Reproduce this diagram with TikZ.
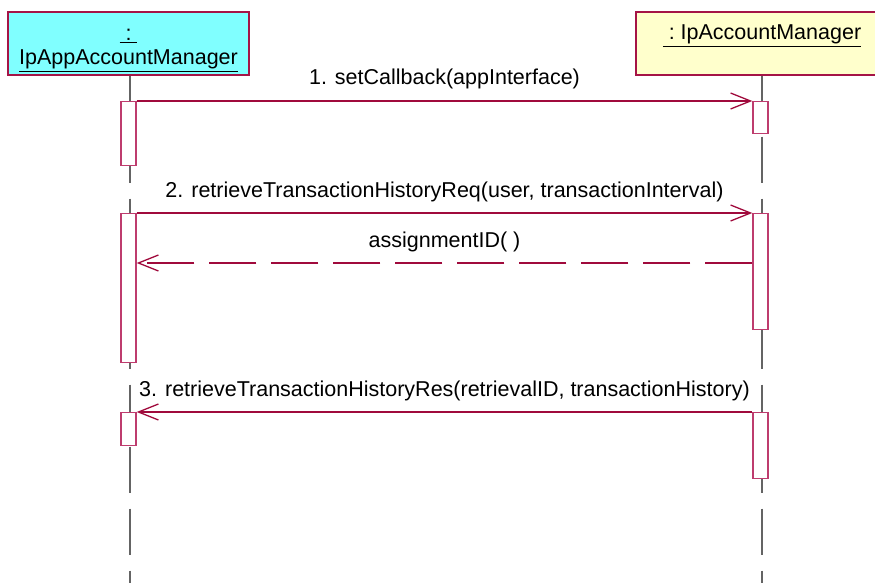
\documentclass[tikz,border=0pt]{standalone}
\usepackage{fontspec}
\setmainfont{Liberation Sans}
\usetikzlibrary{arrows.meta}
\definecolor{white}{RGB}{255,255,255}
\definecolor{app_cyan}{RGB}{128,255,255}
\definecolor{mgr_yellow}{RGB}{255,255,204}
\definecolor{hdr_red}{RGB}{165,20,70}
\definecolor{act_red}{RGB}{190,60,110}
\definecolor{msg_red}{RGB}{160,10,60}
\definecolor{life_gray}{RGB}{100,100,100}

% thicker underline for object names
\newcommand{\objname}[1]{\leavevmode\vtop{\hbox{#1}\kern2pt\hrule height 1.3pt}}

\tikzset{
	header/.style={draw=hdr_red,line width=1.3pt,minimum height=63pt,inner sep=0pt,
		align=center,font=\fontsize{21.5}{24}\selectfont},
	lifeline/.style={life_gray,line width=1.3pt,dash pattern=on 46pt off 16pt,dash phase=1pt},
	actbox/.style={draw=act_red,fill=white,line width=1.3pt,minimum width=15pt,inner sep=0pt,anchor=north},
	msg/.style={msg_red,line width=1.3pt,-{Straight Barb[length=20pt,width=16pt,line width=1.3pt]}},
	reply/.style={msg,dash pattern=on 47pt off 15pt},
	msglabel/.style={midway,anchor=base,yshift=16pt,black,font=\fontsize{21.5}{24}\selectfont}
}

\begin{document}
\begin{tikzpicture}[x=1pt,y=-1pt]
	\useasboundingbox (0,0) rectangle (875,583);
	\coordinate (bottom) at (0,583);
	\coordinate (ret) at (0,263);

	% objects
	\node[header,fill=app_cyan,minimum width=241pt] (app) at (128.5,43.5)
		{\rule{0pt}{25pt}\objname{\ :\ }\\\objname{IpAppAccountManager}};
	\node[header,fill=mgr_yellow,minimum width=252pt] (mgr) at (762,43.5)
		{\rule{0pt}{25pt}\objname{\ :\ IpAccountManager}\\\strut};

	% lifelines
	\draw[lifeline] (app.south -| 130,0) -- (130,583);
	\draw[lifeline] (mgr.south) -- (mgr.south |- bottom);

	% activations
	\node[actbox,minimum height=64pt] (a1) at (128.5,101) {};
	\node[actbox,minimum height=149pt] (a2) at (128.5,213) {};
	\node[actbox,minimum height=33pt] (a3) at (128.5,412) {};
	\node[actbox,minimum height=32pt] (m1) at (760.5,101) {};
	\node[actbox,minimum height=116pt] (m2) at (760.5,213) {};
	\node[actbox,minimum height=66pt] (m3) at (760.5,412) {};

	% messages
	\draw[msg] (a1.north east) -- (m1.north west)
		node[msglabel] {1. setCallback(appInterface)};
	\draw[msg] (a2.north east) -- (m2.north west)
		node[msglabel] {2. retrieveTransactionHistoryReq(user, transactionInterval)};
	\draw[reply] (m2.west |- ret) -- (a2.east |- ret)
		node[msglabel] {assignmentID( )};
	\draw[msg] (m3.north west) -- (a3.north east)
		node[msglabel] {3. retrieveTransactionHistoryRes(retrievalID, transactionHistory)};
\end{tikzpicture}
\end{document}
